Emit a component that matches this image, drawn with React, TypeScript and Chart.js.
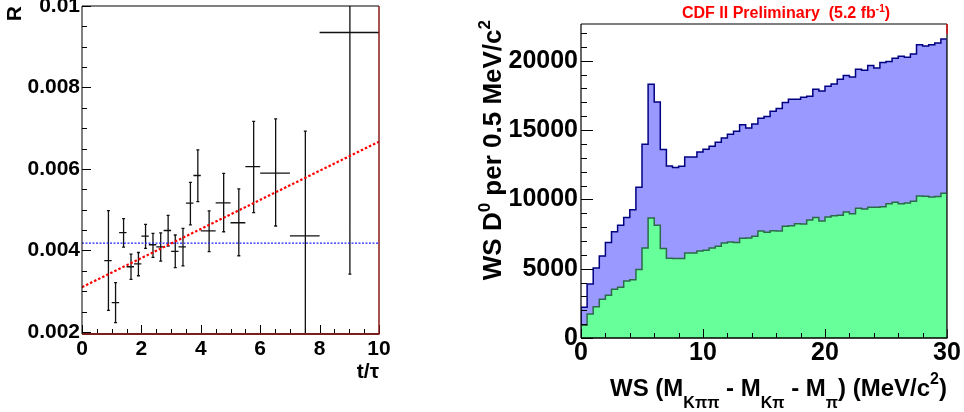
import React, { useEffect, useRef } from 'react';
import { Chart, registerables } from 'chart.js';

Chart.register(...registerables);

const FONT = "'Liberation Sans', Arial, Helvetica, sans-serif";

// ---------------- Left panel: R versus t/tau ----------------
const tLow = [0.75, 1.0, 1.25, 1.5, 1.75, 2.0, 2.25, 2.5, 2.75, 3.0, 3.25, 3.5, 3.75, 4.0, 4.5, 5.0, 5.5, 6.0, 7.0, 8.0];
const tHigh = [1.0, 1.25, 1.5, 1.75, 2.0, 2.25, 2.5, 2.75, 3.0, 3.25, 3.5, 3.75, 4.0, 4.5, 5.0, 5.5, 6.0, 7.0, 8.0, 10.0];
const tCenter = [0.89, 1.13, 1.4, 1.65, 1.9, 2.14, 2.39, 2.65, 2.9, 3.14, 3.4, 3.65, 3.9, 4.28, 4.77, 5.28, 5.78, 6.52, 7.52, 9.02];
const rValue = [0.00375, 0.00272, 0.00444, 0.0036, 0.00367, 0.00435, 0.00414, 0.00409, 0.00449, 0.00398, 0.00409, 0.00516, 0.00584, 0.00448, 0.00517, 0.00468, 0.00606, 0.0059, 0.00436, 0.00935];
const rLow = [0.00253, 0.00223, 0.00408, 0.00329, 0.00338, 0.00405, 0.00383, 0.00374, 0.00411, 0.00358, 0.00362, 0.00463, 0.0052, 0.00397, 0.00446, 0.00387, 0.00493, 0.0046, 0.0015, 0.00342];
const rHigh = [0.00498, 0.00321, 0.00478, 0.00391, 0.00395, 0.00464, 0.00442, 0.00443, 0.00486, 0.00438, 0.00454, 0.00567, 0.00647, 0.00497, 0.00589, 0.00551, 0.00717, 0.00723, 0.00693, 0.0115];
const fitT = [0, 10];
const fitLinear = [0.0031, 0.00667];
const fitConstant = [0.00418, 0.00418];
const leftXTicks = [0, 2, 4, 6, 8, 10];
const leftXTickLabels = ['0', '2', '4', '6', '8', '10'];
const leftYTicks = [0.002, 0.004, 0.006, 0.008, 0.01];
const leftYTickLabels = ['0.002', '0.004', '0.006', '0.008', '0.01'];

// ---------------- Right panel: WS mass-difference histogram ----------------
const massBinWidth = 0.5;
const totalCounts = [
  2215, 3900, 5050, 5920, 6880, 7670, 8130, 8700, 9260, 10870,
  13970, 18300, 17030, 13590, 12410, 12290, 12390, 13060, 13060, 13420,
  13610, 13830, 14120, 14430, 14690, 14910, 15390, 15150, 15440, 15850,
  15970, 16350, 16550, 16980, 17220, 17220, 17360, 17440, 17940, 17820,
  18160, 18330, 18660, 18930, 18830, 19390, 19310, 19650, 19480, 19870,
  19940, 20180, 20320, 20250, 20490, 21160, 21070, 21160, 21280, 21570,
];
const backgroundCounts = [
  920, 1730, 2260, 2790, 3080, 3510, 3660, 4110, 4210, 4950,
  6490, 8660, 8130, 6450, 5750, 5730, 5730, 6130, 6130, 6280,
  6330, 6490, 6610, 6850, 6930, 6880, 7190, 7215, 7340, 7720,
  7620, 7740, 7720, 8060, 8100, 8250, 8230, 8510, 8700, 8440,
  8730, 8820, 8850, 9090, 8970, 9360, 9310, 9430, 9430, 9475,
  9690, 9790, 9690, 9740, 9860, 10245, 10220, 10170, 10200, 10440,
];
const rightXTicks = [0, 10, 20, 30];
const rightXTickLabels = ['0', '10', '20', '30'];
const rightYTicks = [0, 5000, 10000, 15000, 20000];
const rightYTickLabels = ['0', '5000', '10000', '15000', '20000'];

// ---------------- helpers ----------------
function histPoints(counts: number[]) {
  const pts: { x: number; y: number }[] = [{ x: 0, y: 0 }];
  counts.forEach((c, i) => {
    pts.push({ x: i * massBinWidth, y: c });
    pts.push({ x: (i + 1) * massBinWidth, y: c });
  });
  pts.push({ x: counts.length * massBinWidth, y: 0 });
  return pts;
}

function labelFor(values: number[], labels: string[]) {
  return (v: any) => {
    const i = values.findIndex((t) => Math.abs(t - Number(v)) < 1e-9);
    return i >= 0 ? labels[i] : '';
  };
}

type Seg = { t: string; s: number; dy?: number };

function drawRich(ctx: CanvasRenderingContext2D, segs: Seg[], x: number, y: number, align: 'left' | 'right' | 'center') {
  let total = 0;
  const widths = segs.map((sg) => {
    ctx.font = `bold ${sg.s}px ${FONT}`;
    const w = ctx.measureText(sg.t).width;
    total += w;
    return w;
  });
  let cx = align === 'left' ? x : align === 'right' ? x - total : x - total / 2;
  ctx.textAlign = 'left';
  ctx.textBaseline = 'alphabetic';
  segs.forEach((sg, i) => {
    ctx.font = `bold ${sg.s}px ${FONT}`;
    ctx.fillText(sg.t, cx, y + (sg.dy || 0));
    cx += widths[i];
  });
}

type FrameOpts = {
  xMinorStep: number;
  yMinorStep: number;
  yMinorStart: number;
  xMajor: number[];
  yMajor: number[];
  xMajorLen: number;
  xMinorLen: number;
  yMajorLen: number;
  yMinorLen: number;
  top: [string, number];
  right: [string, number];
  bottom: [string, number];
  left: [string, number];
};

function framePlugin(o: FrameOpts) {
  return {
    id: 'rootFrame',
    afterDatasetsDraw(chart: any) {
      const { ctx, chartArea: a } = chart;
      const xs = chart.scales.x;
      const ys = chart.scales.y;
      ctx.save();
      ctx.strokeStyle = '#000';
      ctx.lineWidth = 1;
      ctx.beginPath();
      const nx = Math.round((xs.max - xs.min) / o.xMinorStep);
      for (let i = 0; i <= nx; i++) {
        const v = xs.min + i * o.xMinorStep;
        const major = o.xMajor.some((m) => Math.abs(m - v) < 1e-9);
        const px = Math.round(xs.getPixelForValue(v)) + 0.5;
        ctx.moveTo(px, a.bottom);
        ctx.lineTo(px, a.bottom - (major ? o.xMajorLen : o.xMinorLen));
      }
      for (let i = 0; i < 1000; i++) {
        const v = o.yMinorStart + i * o.yMinorStep;
        if (v > ys.max + 1e-12) break;
        const major = o.yMajor.some((m) => Math.abs(m - v) < o.yMinorStep * 1e-3);
        const py = Math.round(ys.getPixelForValue(v)) + 0.5;
        ctx.moveTo(a.left, py);
        ctx.lineTo(a.left + (major ? o.yMajorLen : o.yMinorLen), py);
      }
      ctx.stroke();
      const side = (c: [string, number], x1: number, y1: number, x2: number, y2: number) => {
        ctx.strokeStyle = c[0];
        ctx.lineWidth = c[1];
        ctx.beginPath();
        ctx.moveTo(x1, y1);
        ctx.lineTo(x2, y2);
        ctx.stroke();
      };
      side(o.top, a.left, a.top, a.right, a.top);
      side(o.right, a.right, a.top, a.right, a.bottom);
      side(o.bottom, a.left, a.bottom, a.right + 0.5, a.bottom);
      side(o.left, a.left, a.top, a.left, a.bottom);
      ctx.restore();
    },
  };
}

const errorBarPlugin = {
  id: 'errorBars',
  beforeDatasetsDraw(chart: any) {
    const { ctx, chartArea: a } = chart;
    const x = chart.scales.x;
    const y = chart.scales.y;
    ctx.save();
    ctx.beginPath();
    ctx.rect(a.left, a.top, a.right - a.left, a.bottom - a.top);
    ctx.clip();
    ctx.strokeStyle = '#111';
    ctx.lineWidth = 1.3;
    ctx.beginPath();
    tCenter.forEach((t, i) => {
      const px = x.getPixelForValue(t);
      const py = y.getPixelForValue(rValue[i]);
      ctx.moveTo(x.getPixelForValue(tLow[i]), py);
      ctx.lineTo(x.getPixelForValue(tHigh[i]), py);
      const yTop = y.getPixelForValue(rHigh[i]);
      const yBot = y.getPixelForValue(rLow[i]);
      ctx.moveTo(px, yTop);
      ctx.lineTo(px, yBot);
      ctx.moveTo(px - 1.5, yTop);
      ctx.lineTo(px + 1.5, yTop);
      ctx.moveTo(px - 1.5, yBot);
      ctx.lineTo(px + 1.5, yBot);
    });
    ctx.stroke();
    ctx.restore();
  },
};

const leftTitlesPlugin = {
  id: 'leftTitles',
  afterDraw(chart: any) {
    const { ctx, chartArea: a } = chart;
    ctx.save();
    ctx.fillStyle = '#000';
    ctx.font = `bold 21px ${FONT}`;
    ctx.textAlign = 'right';
    ctx.textBaseline = 'middle';
    ctx.fillText('t/\u03c4', a.right, 372);
    ctx.translate(15, 6);
    ctx.rotate(-Math.PI / 2);
    ctx.fillText('R', 0, 0);
    ctx.restore();
  },
};

const rightTitlesPlugin = {
  id: 'rightTitles',
  afterDraw(chart: any) {
    const { ctx, chartArea: a } = chart;
    ctx.save();
    // header
    ctx.fillStyle = '#ff0000';
    drawRich(
      ctx,
      [
        { t: 'CDF II Preliminary  (5.2 fb', s: 16 },
        { t: '-1', s: 10, dy: -6 },
        { t: ')', s: 16 },
      ],
      316,
      18,
      'center'
    );
    // x title
    ctx.fillStyle = '#000';
    drawRich(
      ctx,
      [
        { t: 'WS (M', s: 24 },
        { t: 'K\u03c0\u03c0', s: 16, dy: 12 },
        { t: ' - M', s: 24 },
        { t: 'K\u03c0', s: 16, dy: 12 },
        { t: ' - M', s: 24 },
        { t: '\u03c0', s: 16, dy: 12 },
        { t: ') (MeV/c', s: 24 },
        { t: '2', s: 16, dy: -12 },
        { t: ')', s: 24 },
      ],
      a.right,
      396,
      'right'
    );
    // y title (rotated)
    ctx.translate(21, 20);
    ctx.rotate(-Math.PI / 2);
    drawRich(
      ctx,
      [
        { t: 'WS D', s: 26 },
        { t: '0', s: 17, dy: -11 },
        { t: ' per 0.5 MeV/c', s: 26 },
        { t: '2', s: 17, dy: -11 },
      ],
      0,
      9.5,
      'right'
    );
    ctx.restore();
    // small red mark on the right frame edge
    ctx.save();
    ctx.strokeStyle = '#ff0000';
    ctx.lineWidth = 1.2;
    ctx.beginPath();
    ctx.moveTo(a.right, a.top);
    ctx.lineTo(a.right, a.top + 10);
    ctx.stroke();
    ctx.restore();
  },
};

function fixedAxis(size: number, horizontal: boolean) {
  return (scale: any) => {
    if (horizontal) scale.height = size;
    else scale.width = size;
    scale.paddingTop = 0;
    scale.paddingBottom = 0;
    scale.paddingLeft = 0;
    scale.paddingRight = 0;
  };
}

export default function App() {
  const leftRef = useRef<HTMLCanvasElement>(null);
  const rightRef = useRef<HTMLCanvasElement>(null);

  useEffect(() => {
    document.body.style.margin = '0';
    const leftChart = new Chart(leftRef.current as HTMLCanvasElement, {
      type: 'scatter',
      data: {
        datasets: [
          {
            label: 'linear fit',
            data: fitT.map((t, i) => ({ x: t, y: fitLinear[i] })),
            showLine: true,
            borderColor: '#ff0000',
            borderWidth: 2.2,
            borderDash: [2.5, 2],
            pointRadius: 0,
          },
          {
            label: 'constant fit',
            data: fitT.map((t, i) => ({ x: t, y: fitConstant[i] })),
            showLine: true,
            borderColor: '#2020ff',
            borderWidth: 1.4,
            borderDash: [2, 1.5],
            pointRadius: 0,
          },
          {
            label: 'R',
            data: tCenter.map((t, i) => ({ x: t, y: rValue[i] })),
            pointRadius: 0,
            showLine: false,
          },
        ],
      } as any,
      options: {
        responsive: false,
        animation: false,
        events: [],
        layout: { padding: { top: 6, right: 21, left: 0, bottom: 0 }, autoPadding: false } as any,
        plugins: { legend: { display: false }, tooltip: { enabled: false } },
        scales: {
          x: {
            type: 'linear',
            min: 0,
            max: 10,
            grid: { display: false, drawTicks: false },
            border: { display: false },
            afterBuildTicks: (s: any) => {
              s.ticks = leftXTicks.map((v) => ({ value: v }));
            },
            afterFit: fixedAxis(78, true),
            ticks: {
              autoSkip: false,
              maxRotation: 0,
              padding: 3,
              color: '#000',
              font: { family: FONT, size: 21, weight: 'bold' },
              callback: labelFor(leftXTicks, leftXTickLabels),
            },
          },
          y: {
            type: 'linear',
            min: 0.00195,
            max: 0.01,
            grid: { display: false, drawTicks: false },
            border: { display: false },
            afterBuildTicks: (s: any) => {
              s.ticks = leftYTicks.map((v) => ({ value: v }));
            },
            afterFit: fixedAxis(82, false),
            ticks: {
              autoSkip: false,
              padding: 2,
              color: '#000',
              font: { family: FONT, size: 21, weight: 'bold' },
              callback: labelFor(leftYTicks, leftYTickLabels),
            },
          },
        },
      } as any,
      plugins: [
        errorBarPlugin,
        framePlugin({
          xMinorStep: 0.5,
          yMinorStep: 0.0005,
          yMinorStart: 0.002,
          xMajor: leftXTicks,
          yMajor: leftYTicks,
          xMajorLen: 9,
          xMinorLen: 5,
          yMajorLen: 9,
          yMinorLen: 5,
          top: ['#000', 1],
          right: ['#8b1a1a', 1.5],
          bottom: ['#7a1e1e', 2],
          left: ['#000', 1],
        }),
        leftTitlesPlugin,
      ] as any,
    });

    const rightChart = new Chart(rightRef.current as HTMLCanvasElement, {
      type: 'scatter',
      data: {
        datasets: [
          {
            label: 'background',
            data: histPoints(backgroundCounts),
            showLine: true,
            fill: 'origin',
            backgroundColor: '#66ff99',
            borderColor: '#2c6a4a',
            borderWidth: 1.5,
            pointRadius: 0,
            order: 0,
          },
          {
            label: 'total',
            data: histPoints(totalCounts),
            showLine: true,
            fill: 'origin',
            backgroundColor: '#9999ff',
            borderColor: '#000080',
            borderWidth: 1.5,
            pointRadius: 0,
            order: 1,
          },
        ],
      } as any,
      options: {
        responsive: false,
        animation: false,
        events: [],
        layout: { padding: { top: 24, right: 17, left: 0, bottom: 0 }, autoPadding: false } as any,
        plugins: { legend: { display: false }, tooltip: { enabled: false } },
        scales: {
          x: {
            type: 'linear',
            min: 0,
            max: 30,
            grid: { display: false, drawTicks: false },
            border: { display: false },
            afterBuildTicks: (s: any) => {
              s.ticks = rightXTicks.map((v) => ({ value: v }));
            },
            afterFit: fixedAxis(74, true),
            ticks: {
              autoSkip: false,
              maxRotation: 0,
              padding: 0,
              color: '#000',
              font: { family: FONT, size: 25, weight: 'bold' },
              callback: labelFor(rightXTicks, rightXTickLabels),
            },
          },
          y: {
            type: 'linear',
            min: 0,
            max: 22650,
            grid: { display: false, drawTicks: false },
            border: { display: false },
            afterBuildTicks: (s: any) => {
              s.ticks = rightYTicks.map((v) => ({ value: v }));
            },
            afterFit: fixedAxis(111, false),
            ticks: {
              autoSkip: false,
              padding: 3,
              color: '#000',
              font: { family: FONT, size: 25, weight: 'bold' },
              callback: labelFor(rightYTicks, rightYTickLabels),
            },
          },
        },
      } as any,
      plugins: [
        framePlugin({
          xMinorStep: 2,
          yMinorStep: 1000,
          yMinorStart: 0,
          xMajor: rightXTicks,
          yMajor: rightYTicks,
          xMajorLen: 9,
          xMinorLen: 5,
          yMajorLen: 12,
          yMinorLen: 6,
          top: ['#555', 1.5],
          right: ['#333', 1.5],
          bottom: ['#000', 1.5],
          left: ['#000', 1.2],
        }),
        rightTitlesPlugin,
      ] as any,
    });

    return () => {
      leftChart.destroy();
      rightChart.destroy();
    };
  }, []);

  return (
    <div style={{ position: 'fixed', left: 0, top: 0, width: 964, height: 412, background: '#fff' }}>
      <canvas ref={leftRef} width={400} height={412} style={{ position: 'absolute', left: 0, top: 0, width: 400, height: 412 }} />
      <canvas ref={rightRef} width={494} height={412} style={{ position: 'absolute', left: 470, top: 0, width: 494, height: 412 }} />
    </div>
  );
}
